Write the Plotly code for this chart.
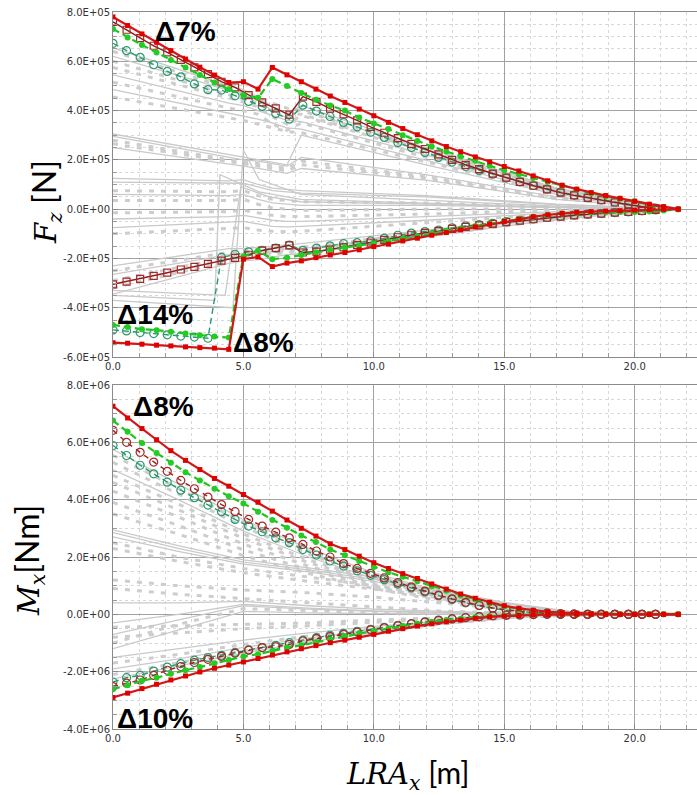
import numpy as np
import plotly.graph_objects as go

# ---------------------------------------------------------------- stations
# filled-marker envelopes (max / min, green) are sampled on one station set,
# open-marker envelopes on a slightly finer one
XF = [0.0, 0.56, 1.11, 1.67, 2.22, 2.78, 3.33, 3.89, 4.44, 5.0,
      5.56, 6.11, 6.67, 7.22, 7.78, 8.33, 8.89, 9.44, 10.0, 10.56,
      11.11, 11.67, 12.22, 12.78, 13.33, 13.89, 14.44, 15.0, 15.56, 16.11,
      16.67, 17.22, 17.78, 18.33, 18.89, 19.44, 20.0, 20.56, 21.11, 21.67]
XO = [0.0, 0.52, 1.04, 1.56, 2.08, 2.6, 3.12, 3.64, 4.16, 4.68,
      5.2, 5.72, 6.24, 6.76, 7.28, 7.8, 8.32, 8.84, 9.36, 9.88,
      10.4, 10.92, 11.44, 11.96, 12.48, 13.0, 13.52, 14.04, 14.56, 15.08,
      15.6, 16.12, 16.64, 17.16, 17.68, 18.2, 18.72, 19.24, 19.76, 20.28, 20.8]

FZ_UNIT = 1e5   # Fz lists below are in 1E+05 N
MX_UNIT = 1e6   # Mx lists below are in 1E+06 Nm

# ---------------------------------------------------------------- Fz envelopes
FZ_MAX = [7.80, 7.45, 7.11, 6.77, 6.43, 6.09, 5.76, 5.44, 5.14, 5.17,
          4.87, 5.75, 5.45, 5.17, 4.87, 4.59, 4.33, 4.06, 3.79, 3.52,
          3.27, 3.02, 2.77, 2.54, 2.33, 2.12, 1.92, 1.73, 1.55, 1.35,
          1.15, 0.97, 0.81, 0.67, 0.55, 0.44, 0.32, 0.20, 0.10, 0.0]
FZ_GREEN_UP = [7.31, 6.97, 6.66, 6.36, 6.05, 5.75, 5.44, 5.14, 4.87, 4.62,
               4.52, 5.28, 5.00, 4.71, 4.44, 4.21, 4.00, 3.72, 3.48, 3.25,
               3.00, 2.77, 2.54, 2.34, 2.14, 1.96, 1.76, 1.58, 1.42, 1.26,
               1.11, 0.95, 0.80, 0.65, 0.52, 0.42, 0.32, 0.18, 0.09, 0.0]
FZ_OPEN_UP = [7.60, 7.28, 6.94, 6.63, 6.36, 6.06, 5.75, 5.48, 5.17, 4.94,
              4.63, 4.33, 4.09, 3.83, 4.57, 4.35, 4.08, 3.85, 3.60, 3.34,
              3.10, 2.88, 2.65, 2.44, 2.22, 2.00, 1.80, 1.62, 1.44, 1.28,
              1.11, 0.95, 0.80, 0.67, 0.56, 0.46, 0.36, 0.27, 0.18, 0.10, 0.03]
FZ_TEAL_UP = [6.73, 6.43, 6.16, 5.86, 5.59, 5.37, 5.08, 4.85, 4.83, 4.60,
              4.37, 4.17, 3.88, 3.65, 4.22, 3.98, 3.76, 3.52, 3.34, 3.12,
              2.91, 2.70, 2.50, 2.30, 2.10, 1.91, 1.73, 1.57, 1.42, 1.26,
              1.11, 0.96, 0.81, 0.69, 0.57, 0.47, 0.38, 0.29, 0.20, 0.11, 0.04]
FZ_MIN = [-5.42, -5.44, -5.48, -5.52, -5.55, -5.59, -5.62, -5.64, -5.69, -2.03,
          -1.94, -2.33, -2.19, -2.10, -1.97, -1.86, -1.76, -1.65, -1.52, -1.42,
          -1.29, -1.18, -1.06, -0.95, -0.84, -0.72, -0.61, -0.50, -0.41, -0.31,
          -0.23, -0.17, -0.13, -0.10, -0.08, -0.06, -0.04, -0.02, -0.01, 0.0]
FZ_GREEN_LO = [-4.70, -4.78, -4.87, -4.91, -4.98, -5.05, -5.12, -5.17, -5.21, -1.92,
               -1.69, -2.03, -1.97, -1.86, -1.76, -1.65, -1.56, -1.47, -1.39, -1.30,
               -1.20, -1.10, -0.99, -0.89, -0.79, -0.68, -0.58, -0.48, -0.39, -0.31,
               -0.24, -0.18, -0.15, -0.13, -0.12, -0.12, -0.12, -0.10, -0.06, 0.0]
FZ_OPEN_LO = [-3.05, -2.94, -2.83, -2.71, -2.58, -2.45, -2.34, -2.22, -2.09, -1.98,
              -1.85, -1.68, -1.58, -1.47, -1.76, -1.72, -1.64, -1.55, -1.45, -1.36,
              -1.25, -1.14, -1.04, -0.96, -0.89, -0.80, -0.72, -0.66, -0.60, -0.53,
              -0.47, -0.41, -0.35, -0.30, -0.25, -0.21, -0.18, -0.14, -0.11, -0.07, -0.03]
FZ_TEAL_LO = [-4.90, -4.94, -5.01, -5.05, -5.10, -5.15, -5.19, -5.24, -1.96, -1.83,
              -1.73, -1.67, -1.58, -1.46, -1.67, -1.58, -1.49, -1.40, -1.36, -1.29,
              -1.18, -1.06, -0.97, -0.91, -0.85, -0.76, -0.68, -0.63, -0.58, -0.51,
              -0.45, -0.40, -0.34, -0.29, -0.24, -0.21, -0.18, -0.14, -0.11, -0.07, -0.03]

# ---------------------------------------------------------------- Mx envelopes
MX_MAX = [7.26, 6.85, 6.48, 6.09, 5.71, 5.37, 5.05, 4.74, 4.47, 4.18,
          3.91, 3.60, 3.29, 3.00, 2.73, 2.46, 2.26, 2.03, 1.80, 1.60,
          1.42, 1.25, 1.06, 0.88, 0.71, 0.56, 0.42, 0.30, 0.21, 0.14,
          0.09, 0.06, 0.04, 0.02, 0.01, 0.0, 0.0, 0.0, 0.0, 0.0]
MX_GREEN_UP = [6.76, 6.37, 5.98, 5.63, 5.29, 4.96, 4.67, 4.38, 4.12, 3.87,
               3.58, 3.29, 3.02, 2.75, 2.52, 2.26, 2.06, 1.86, 1.65, 1.47,
               1.31, 1.15, 0.98, 0.82, 0.66, 0.52, 0.39, 0.28, 0.19, 0.13,
               0.08, 0.05, 0.03, 0.02, 0.01, 0.0, 0.0, 0.0, 0.0, 0.0]
MX_OPEN_UP = [6.42, 6.00, 5.65, 5.31, 4.99, 4.67, 4.38, 4.09, 3.83, 3.58,
              3.31, 3.08, 2.87, 2.67, 2.44, 2.21, 2.00, 1.77, 1.60, 1.43,
              1.27, 1.11, 0.96, 0.81, 0.67, 0.54, 0.42, 0.31, 0.22, 0.15,
              0.10, 0.06, 0.04, 0.02, 0.01, 0.0, 0.0, 0.0, 0.0, 0.0, 0.0]
MX_TEAL_UP = [5.89, 5.54, 5.20, 4.90, 4.61, 4.33, 4.07, 3.81, 3.58, 3.31,
              3.08, 2.88, 2.67, 2.50, 2.26, 2.07, 1.86, 1.68, 1.52, 1.36,
              1.21, 1.06, 0.92, 0.78, 0.65, 0.52, 0.40, 0.30, 0.21, 0.14,
              0.09, 0.06, 0.04, 0.02, 0.01, 0.0, 0.0, 0.0, 0.0, 0.0, 0.0]
MX_MIN = [-2.90, -2.75, -2.59, -2.44, -2.29, -2.15, -2.01, -1.88, -1.77, -1.66,
          -1.54, -1.42, -1.31, -1.20, -1.09, -0.99, -0.90, -0.80, -0.70, -0.59,
          -0.50, -0.41, -0.33, -0.26, -0.20, -0.14, -0.09, -0.06, -0.04, -0.02,
          -0.01, 0.0, 0.0, 0.0, 0.0, 0.0, 0.0, 0.0, 0.0, 0.0]
MX_GREEN_LO = [-2.61, -2.47, -2.32, -2.21, -2.07, -1.95, -1.84, -1.71, -1.59, -1.47,
               -1.39, -1.28, -1.16, -1.08, -0.97, -0.87, -0.76, -0.67, -0.58, -0.49,
               -0.41, -0.33, -0.26, -0.20, -0.15, -0.10, -0.07, -0.04, -0.02, -0.01,
               0.0, 0.0, 0.0, 0.0, 0.0, 0.0, 0.0, 0.0, 0.0, 0.0]
MX_OPEN_LO = [-2.52, -2.40, -2.29, -2.13, -1.95, -1.82, -1.68, -1.57, -1.47, -1.36,
              -1.25, -1.16, -1.13, -1.05, -0.93, -0.85, -0.78, -0.70, -0.62, -0.54,
              -0.47, -0.40, -0.33, -0.27, -0.21, -0.16, -0.12, -0.08, -0.05, -0.03,
              -0.02, -0.01, 0.0, 0.0, 0.0, 0.0, 0.0, 0.0, 0.0, 0.0, 0.0]
MX_TEAL_LO = [-2.36, -2.21, -2.13, -1.98, -1.84, -1.72, -1.60, -1.51, -1.43, -1.33,
              -1.24, -1.16, -1.08, -0.99, -0.90, -0.81, -0.73, -0.66, -0.59, -0.52,
              -0.45, -0.38, -0.32, -0.26, -0.20, -0.15, -0.11, -0.08, -0.05, -0.03,
              -0.02, -0.01, 0.0, 0.0, 0.0, 0.0, 0.0, 0.0, 0.0, 0.0, 0.0]

# ---------------------------------------------------------------- other load cases (grey)
GX_TOP = [0.0, 4.44, 5.0, 5.56, 6.11, 6.67, 7.22, 12.0, 17.0, 21.67]
FZ_CASES_SOLID = [
    [6.55, 5.00, 4.85, 4.55, 4.15, 3.85, 4.20, 2.50, 0.85, 0.0],
    [6.20, 4.80, 4.65, 4.40, 4.00, 3.70, 4.05, 2.40, 0.80, 0.0],
    [5.45, 4.30, 4.20, 4.00, 3.80, 3.60, 3.55, 2.20, 0.73, 0.0],
    [4.85, 3.90, 3.80, 3.65, 3.50, 3.30, 3.25, 2.00, 0.67, 0.0],
    [3.05, 2.20, 2.10, 2.00, 1.90, 1.80, 3.00, 1.80, 0.60, 0.0],
    [2.95, 2.10, 2.00, 1.95, 1.85, 1.75, 2.10, 1.40, 0.50, 0.0],
    [2.50, 1.85, 1.75, 1.65, 1.55, 1.45, 1.65, 1.18, 0.40, 0.0],
    [1.25, 1.15, 1.20, 1.00, 0.85, 0.80, 0.75, 0.55, 0.20, 0.0],
    [1.10, 1.05, 1.05, 0.90, 0.75, 0.70, 0.65, 0.50, 0.18, 0.0],
    [0.60, 0.55, 0.60, 0.40, 0.25, 0.20, 0.15, 0.15, 0.08, 0.0],
    [-0.40, -0.30, -0.25, -0.35, -0.45, -0.50, -0.50, -0.30, -0.10, 0.0],
    [-0.75, -0.55, -0.50, -0.60, -0.70, -0.72, -0.70, -0.45, -0.15, 0.0],
    [-2.30, -1.60, -1.60, -1.55, -1.50, -1.45, -1.40, -0.85, -0.30, 0.0],
    [-2.65, -1.85, -1.80, -1.75, -1.70, -1.62, -1.60, -1.00, -0.35, 0.0],
    [-3.45, -2.20, -2.10, -2.05, -1.95, -1.85, -1.80, -1.12, -0.41, 0.0],
]
FZ_CASES_DASHED = [
    [6.40, 4.90, 4.75, 4.50, 4.30, 4.10, 4.00, 2.45, 0.82, 0.0],
    [6.00, 4.65, 4.50, 4.30, 4.10, 3.90, 3.85, 2.35, 0.78, 0.0],
    [5.75, 4.50, 4.35, 4.15, 3.75, 3.45, 3.80, 2.28, 0.76, 0.0],
    [5.15, 4.10, 4.00, 3.85, 3.45, 3.20, 3.50, 2.10, 0.70, 0.0],
    [4.55, 3.70, 3.60, 3.45, 3.30, 3.15, 3.10, 1.92, 0.64, 0.0],
    [2.80, 2.00, 1.95, 1.85, 1.75, 1.65, 1.95, 1.32, 0.46, 0.0],
    [2.65, 1.95, 1.85, 1.75, 1.65, 1.55, 1.80, 1.25, 0.43, 0.0],
    [0.75, 0.70, 0.75, 0.55, 0.40, 0.35, 0.30, 0.25, 0.10, 0.0],
    [0.35, 0.35, 0.40, 0.20, 0.05, 0.00, -0.05, 0.00, 0.02, 0.0],
    [-0.15, -0.10, -0.05, -0.15, -0.25, -0.30, -0.30, -0.20, -0.05, 0.0],
    [-1.00, -0.80, -0.75, -0.85, -0.90, -0.92, -0.90, -0.55, -0.18, 0.0],
    [-2.50, -1.75, -1.70, -1.65, -1.60, -1.55, -1.55, -0.95, -0.33, 0.0],
    [-2.90, -1.95, -1.90, -1.85, -1.75, -1.68, -1.65, -1.05, -0.37, 0.0],
    [-3.20, -2.10, -2.00, -1.95, -1.85, -1.75, -1.72, -1.10, -0.40, 0.0],
]
# cases whose shear flips sign near the gear station
FZ_JUMP_X = [[0.0, 3.9, 4.1, 5.6, 7.2, 12.0, 17.0, 21.67],
             [0.0, 4.6, 5.0, 5.6, 7.2, 12.0, 17.0, 21.67],
             [0.0, 4.3, 4.9, 6.0, 7.2, 12.0, 17.0, 21.67]]
FZ_JUMP_Y = [[-3.5, -3.7, 1.4, 0.7, 0.4, 0.25, 0.08, 0.0],
             [-3.7, -4.0, 2.4, 1.2, 0.6, 0.35, 0.12, 0.0],
             [-3.3, -3.5, 0.9, 0.5, 0.3, 0.20, 0.06, 0.0]]

GX_BOT = [0.0, 2.5, 5.0, 7.5, 10.0, 12.5, 15.0, 17.5, 21.67]
MX_CASES_SOLID = [
    [5.75, 4.55, 3.30, 2.30, 1.45, 0.80, 0.30, 0.05, 0.0],
    [5.05, 4.00, 2.90, 2.00, 1.25, 0.68, 0.25, 0.04, 0.0],
    [2.95, 2.40, 1.90, 1.62, 1.30, 0.85, 0.42, 0.10, 0.0],
    [2.85, 2.30, 1.82, 1.55, 1.22, 0.80, 0.40, 0.09, 0.0],
    [2.70, 2.20, 1.75, 1.48, 1.15, 0.75, 0.37, 0.08, 0.0],
    [0.40, 0.40, 0.45, 0.30, 0.18, 0.10, 0.04, 0.01, 0.0],
    [-0.30, 0.00, 0.35, 0.22, 0.12, 0.06, 0.02, 0.00, 0.0],
    [-0.70, -0.20, 0.30, 0.18, 0.10, 0.05, 0.02, 0.00, 0.0],
    [-1.20, -0.55, 0.10, 0.05, 0.02, 0.01, 0.00, 0.00, 0.0],
    [-1.50, -1.20, -0.90, -0.65, -0.42, -0.24, -0.10, -0.02, 0.0],
    [-1.90, -1.55, -1.15, -0.83, -0.55, -0.31, -0.13, -0.03, 0.0],
    [-2.25, -1.80, -1.35, -0.97, -0.64, -0.36, -0.15, -0.03, 0.0],
]
MX_CASES_DASHED = [
    [5.55, 4.40, 3.20, 2.20, 1.40, 0.75, 0.28, 0.05, 0.0],
    [5.30, 4.20, 3.05, 2.10, 1.33, 0.72, 0.27, 0.05, 0.0],
    [4.85, 3.85, 2.80, 1.90, 1.20, 0.65, 0.24, 0.04, 0.0],
    [4.60, 3.65, 2.65, 1.80, 1.13, 0.60, 0.22, 0.04, 0.0],
    [4.30, 3.40, 2.45, 1.68, 1.05, 0.56, 0.20, 0.03, 0.0],
    [3.90, 3.10, 2.25, 1.55, 0.97, 0.52, 0.19, 0.03, 0.0],
    [3.50, 2.80, 2.05, 1.42, 0.90, 0.48, 0.17, 0.03, 0.0],
    [2.50, 2.00, 1.60, 1.30, 1.00, 0.65, 0.32, 0.07, 0.0],
    [2.30, 1.85, 1.45, 1.15, 0.88, 0.58, 0.28, 0.06, 0.0],
    [1.20, 1.00, 0.85, 0.75, 0.60, 0.40, 0.20, 0.05, 0.0],
    [0.90, 0.70, 0.55, 0.40, 0.25, 0.12, 0.05, 0.01, 0.0],
    [-1.00, -0.35, 0.20, 0.12, 0.06, 0.03, 0.01, 0.00, 0.0],
    [-0.45, -0.40, -0.35, -0.30, -0.20, -0.12, -0.05, -0.01, 0.0],
    [-0.80, -0.65, -0.50, -0.40, -0.28, -0.16, -0.07, -0.02, 0.0],
    [-1.70, -1.40, -1.05, -0.75, -0.50, -0.28, -0.12, -0.03, 0.0],
    [-2.10, -1.70, -1.28, -0.92, -0.60, -0.34, -0.14, -0.03, 0.0],
]

# ---------------------------------------------------------------- axes text
X_TICKS = [0, 5, 10, 15, 20]
X_TICK_TEXT = ["0.0", "5.0", "10.0", "15.0", "20.0"]
FZ_TICKS = [-6e5, -4e5, -2e5, 0, 2e5, 4e5, 6e5, 8e5]
FZ_TICK_TEXT = ["-6.0E+05", "-4.0E+05", "-2.0E+05", "0.0E+00",
                "2.0E+05", "4.0E+05", "6.0E+05", "8.0E+05"]
MX_TICKS = [-4e6, -2e6, 0, 2e6, 4e6, 6e6, 8e6]
MX_TICK_TEXT = ["-4.0E+06", "-2.0E+06", "0.0E+00", "2.0E+06",
                "4.0E+06", "6.0E+06", "8.0E+06"]

# ---------------------------------------------------------------- styles
GREY_SOLID = dict(color="#c9c9c9", width=1.3)
GREY_DASH = dict(color="#cdcdcd", width=3, dash="5px,7px")

RED = dict(line=dict(color="#d01818", width=2.2),
           marker=dict(symbol="square", size=5, color="#e00000"))
DARKRED_SQ = dict(line=dict(color="#8c1c1c", width=1.4),
                  marker=dict(symbol="square-open", size=7, color="#a82828",
                              line=dict(width=1.2)))
DARKRED_CI = dict(line=dict(color="#9a2020", width=1.4, dash="5px,5px"),
                  marker=dict(symbol="circle-open", size=8, color="#a82828",
                              line=dict(width=1.2)))
GREEN = dict(line=dict(color="#1fc21f", width=2.2, dash="7px,4px"),
             marker=dict(symbol="circle", size=6, color="#22cc22"))
TEAL = dict(line=dict(color="#2a9a6c", width=1.4, dash="6px,4px"),
            marker=dict(symbol="circle-open", size=8, color="#2a9a6c",
                        line=dict(width=1.2)))

fig = go.Figure()


def add_line(x, y, unit, axes, line, marker=None):
    mode = "lines+markers" if marker else "lines"
    fig.add_trace(go.Scatter(
        x=x, y=np.asarray(y, dtype=float) * unit, mode=mode,
        line=line, marker=marker, xaxis=axes[0], yaxis=axes[1],
        showlegend=False, hoverinfo="skip"))


TOP = ("x", "y")
BOT = ("x2", "y2")

# grey background cases
for row in FZ_CASES_DASHED:
    add_line(GX_TOP, row, FZ_UNIT, TOP, GREY_DASH)
for row in FZ_CASES_SOLID:
    add_line(GX_TOP, row, FZ_UNIT, TOP, GREY_SOLID)
for xs, ys in zip(FZ_JUMP_X, FZ_JUMP_Y):
    add_line(xs, ys, FZ_UNIT, TOP, GREY_SOLID)
for row in MX_CASES_DASHED:
    add_line(GX_BOT, row, MX_UNIT, BOT, GREY_DASH)
for row in MX_CASES_SOLID:
    add_line(GX_BOT, row, MX_UNIT, BOT, GREY_SOLID)

# envelopes
for x, y, st in [(XO, FZ_TEAL_UP, TEAL), (XO, FZ_TEAL_LO, TEAL),
                 (XO, FZ_OPEN_UP, DARKRED_SQ), (XO, FZ_OPEN_LO, DARKRED_SQ),
                 (XF, FZ_GREEN_UP, GREEN), (XF, FZ_GREEN_LO, GREEN),
                 (XF, FZ_MAX, RED), (XF, FZ_MIN, RED)]:
    add_line(x, y, FZ_UNIT, TOP, st["line"], st["marker"])
for x, y, st in [(XO, MX_TEAL_UP, TEAL), (XO, MX_TEAL_LO, TEAL),
                 (XO, MX_OPEN_UP, DARKRED_CI), (XO, MX_OPEN_LO, DARKRED_CI),
                 (XF, MX_GREEN_UP, GREEN), (XF, MX_GREEN_LO, GREEN),
                 (XF, MX_MAX, RED), (XF, MX_MIN, RED)]:
    add_line(x, y, MX_UNIT, BOT, st["line"], st["marker"])

# ---------------------------------------------------------------- axes
TICK_FONT = dict(family="DejaVu Sans", size=10, color="#333333")
MAJOR_GRID = "#a2a2a2"
MINOR_GRID = "#d8d8d8"


def x_axis(anchor):
    return dict(anchor=anchor, domain=[0, 1], range=[0, 22.39],
                tickmode="array", tickvals=X_TICKS, ticktext=X_TICK_TEXT,
                tickfont=TICK_FONT, showgrid=True, gridcolor=MAJOR_GRID,
                gridwidth=1, zeroline=False, showline=True, linecolor="#8a8a8a",
                linewidth=1, mirror=True, ticks="inside", ticklen=5,
                tickcolor="#8a8a8a",
                minor=dict(tickmode="linear", tick0=0, dtick=1, showgrid=True,
                           gridcolor=MINOR_GRID, griddash="dot", ticks="inside",
                           ticklen=4, tickcolor="#9a9a9a"))


def y_axis(anchor, domain, rng, vals, text, minor_step):
    return dict(anchor=anchor, domain=domain, range=rng,
                tickmode="array", tickvals=vals, ticktext=text,
                tickfont=TICK_FONT, showgrid=True, gridcolor=MAJOR_GRID,
                gridwidth=1, zeroline=False, showline=True, linecolor="#8a8a8a",
                linewidth=1, mirror=False, ticks="inside", ticklen=5,
                tickcolor="#8a8a8a",
                minor=dict(tickmode="linear", tick0=0, dtick=minor_step,
                           showgrid=True, gridcolor=MINOR_GRID, griddash="dot",
                           ticks="inside", ticklen=4, tickcolor="#9a9a9a"))


L, T, B, W, H = 113, 12, 66, 697, 795
PW, PH = W - L, H - T - B


def px(xp):
    return (xp - L) / PW


def py(yp):
    return (H - B - yp) / PH


fig.update_layout(
    width=W, height=H, margin=dict(l=L, r=0, t=T, b=B, pad=0),
    paper_bgcolor="white", plot_bgcolor="white",
    xaxis=x_axis("y"), xaxis2=x_axis("y2"),
    yaxis=y_axis("x", [py(357), 1], [-6e5, 8e5], FZ_TICKS, FZ_TICK_TEXT, 5e4),
    yaxis2=y_axis("x2", [0, py(385)], [-4e6, 8e6], MX_TICKS, MX_TICK_TEXT, 5e5),
)

DELTA_FONT = dict(family="Liberation Sans", size=28, color="black")
for text, cx, cy in [("<b>Δ7%</b>", 185.5, 31), ("<b>Δ14%</b>", 155, 314),
                     ("<b>Δ8%</b>", 263, 342), ("<b>Δ8%</b>", 163, 406),
                     ("<b>Δ10%</b>", 155, 718)]:
    fig.add_annotation(text=text, x=px(cx), y=py(cy), xref="paper", yref="paper",
                       xanchor="center", yanchor="middle", showarrow=False,
                       font=DELTA_FONT)

MATH = 'font-family:DejaVu Serif;font-size:29px'
TITLE_FONT = dict(family="Lato", size=32, color="black")
fig.add_annotation(
    text=f'<span style="{MATH}"><i>F</i><sub><i>z</i></sub></span> [N]',
    x=px(45), y=py(202), xref="paper", yref="paper", textangle=-90,
    xanchor="center", yanchor="middle", showarrow=False, font=TITLE_FONT)
fig.add_annotation(
    text=f'<span style="{MATH}"><i>M</i><sub><i>x</i></sub></span>[Nm]',
    x=px(28), y=py(561), xref="paper", yref="paper", textangle=-90,
    xanchor="center", yanchor="middle", showarrow=False, font=TITLE_FONT)
fig.add_annotation(
    text=f'<span style="{MATH}"><i>LRA</i><sub><i>x</i></sub></span> [m]',
    x=px(408), y=py(774), xref="paper", yref="paper",
    xanchor="center", yanchor="middle", showarrow=False,
    font=dict(family="Lato", size=30, color="black"))

fig.write_html("out.html")
